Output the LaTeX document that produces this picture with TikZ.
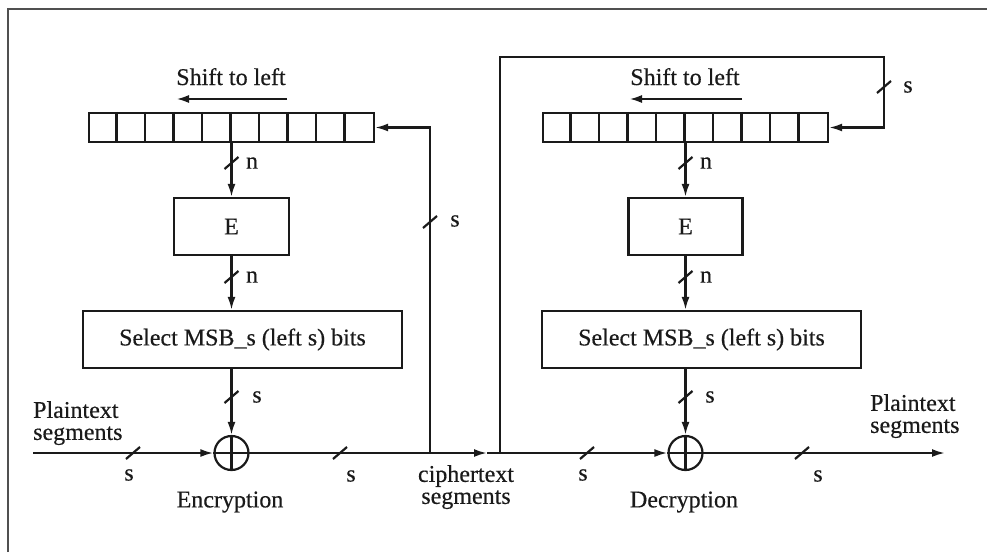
\documentclass[tikz,border=0pt]{standalone}
\usepackage{fontspec}
\setmainfont{Liberation Serif}[FakeBold=0.4]
\usetikzlibrary{arrows.meta,calc}
\definecolor{ink}{HTML}{1A1A1A}
\definecolor{framegray}{HTML}{505050}
\begin{document}
\begin{tikzpicture}[x=1pt,y=-1pt,
  every node/.style={text=ink,font=\fontsize{24}{22}\selectfont},
  wire/.style={draw=ink,line width=2.2pt},
  arr/.style={wire,-{Latex[length=13pt,width=8pt]}},
  boxnode/.style={draw=ink,line width=2.2pt,rectangle,inner sep=0pt},
  lbl/.style={inner sep=0pt},
  xornode/.style={draw=ink,line width=2.2pt,circle,minimum size=34pt,inner sep=0pt},
  busmark/.pic={\draw[ink,line width=2.2pt] (-7,6) -- (7,-6);}
]
\useasboundingbox (0,0) rectangle (987,552);
% cropped outer frame
\draw[framegray,line width=2.5pt] (8,552) -- (8,9) -- (987,9);

% ---------- Encryption side ----------
\node[boxnode,minimum width=285pt,minimum height=29pt] (reg1) at (231.5,127.5) {};
\foreach \i in {1,...,9} \draw[wire] ($(reg1.north west)+(28.5*\i,0)$) -- ($(reg1.south west)+(28.5*\i,0)$);
\node[lbl,anchor=base] (sh1) at (231,85) {Shift to left};
\coordinate (sa1) at (287,99);
\coordinate (sb1) at (177,99);
\draw[ink,line width=1.6pt,-{Latex[length=12pt,width=8pt]}] (sa1) -- (sb1);

\node[boxnode,minimum width=115pt,minimum height=57pt] (E1) at (231.5,226.5) {E};
\node[boxnode,minimum width=319pt,minimum height=57pt] (S1) at (242.5,339.5) {Select MSB\_s (left s) bits};
\node[xornode] (X1) at (231.5,453) {};
\draw[wire] (X1.north) -- (X1.south) (X1.west) -- (X1.east);

\draw[arr] (reg1.south) -- (E1.north);
\draw[arr] (E1.south) -- (E1.south |- S1.north);
\draw[arr] (E1.south |- S1.south) -- (X1.north);
\pic at (231.5,163) {busmark};
\node[lbl] (n1) at (252,163) {n};
\pic at (231.5,277) {busmark};
\node[lbl] (n2) at (252,277) {n};
\pic at (231.5,397) {busmark};
\node[lbl] (s1) at (257,397) {s};

\coordinate (pin1) at (33,453);
\draw[arr] (pin1) -- (X1.west);
\pic at (133,453) {busmark};
\node[lbl] (s2) at (129,475) {s};
\node[lbl,anchor=north west,align=left] (pt1) at (33,401) {Plaintext\\segments};

\coordinate (c1) at (487,453);
\coordinate (f1) at (430,453);
\draw[arr] (X1.east) -- (c1);
\pic at (340,453) {busmark};
\node[lbl] (s3) at (351,476) {s};
\draw[arr] (f1) |- (reg1.east);
\pic at (430,222) {busmark};
\node[lbl] (s4) at (455,221) {s};
\node[lbl] (enc) at (230,502) {Encryption};
\node[lbl,anchor=north,align=center] (ct) at (466,465) {ciphertext\\segments};

% ---------- Decryption side ----------
\coordinate (d0) at (500,453);
\draw[wire] (c1) -- (d0);
\node[boxnode,minimum width=285pt,minimum height=29pt] (reg2) at (685.5,127.5) {};
\foreach \i in {1,...,9} \draw[wire] ($(reg2.north west)+(28.5*\i,0)$) -- ($(reg2.south west)+(28.5*\i,0)$);
\node[lbl,anchor=base] (sh2) at (685,85) {Shift to left};
\coordinate (sa2) at (742,99);
\coordinate (sb2) at (630,99);
\draw[ink,line width=1.6pt,-{Latex[length=12pt,width=8pt]}] (sa2) -- (sb2);

\node[boxnode,minimum width=114pt,minimum height=57pt] (E2) at (685.5,226.5) {E};
\node[boxnode,minimum width=319pt,minimum height=57pt] (S2) at (701.5,339.5) {Select MSB\_s (left s) bits};
\node[xornode] (X2) at (685.5,453) {};
\draw[wire] (X2.north) -- (X2.south) (X2.west) -- (X2.east);

\draw[arr] (reg2.south) -- (E2.north);
\draw[arr] (E2.south) -- (E2.south |- S2.north);
\draw[arr] (E2.south |- S2.south) -- (X2.north);
\pic at (685.5,163) {busmark};
\node[lbl] (n3) at (706,163) {n};
\pic at (685.5,277) {busmark};
\node[lbl] (n4) at (706,277) {n};
\pic at (685.5,397) {busmark};
\node[lbl] (s5) at (710,397) {s};

\draw[arr] (d0) -- (X2.west);
\pic at (587,453) {busmark};
\node[lbl] (s6) at (583,475) {s};
\coordinate (pout) at (945,453);
\draw[arr] (X2.east) -- (pout);
\pic at (802,453) {busmark};
\node[lbl] (s7) at (818,476) {s};
\node[lbl,anchor=north west,align=left] (pt2) at (870,394) {Plaintext\\segments};

\coordinate (t1) at (500,57);
\coordinate (t2) at (884,57);
\draw[arr] (d0) -- (t1) -- (t2) |- (reg2.east);
\pic at (884,87) {busmark};
\node[lbl] (s8) at (908,87) {s};
\node[lbl] (dec) at (684,502) {Decryption};
\end{tikzpicture}
\end{document}
